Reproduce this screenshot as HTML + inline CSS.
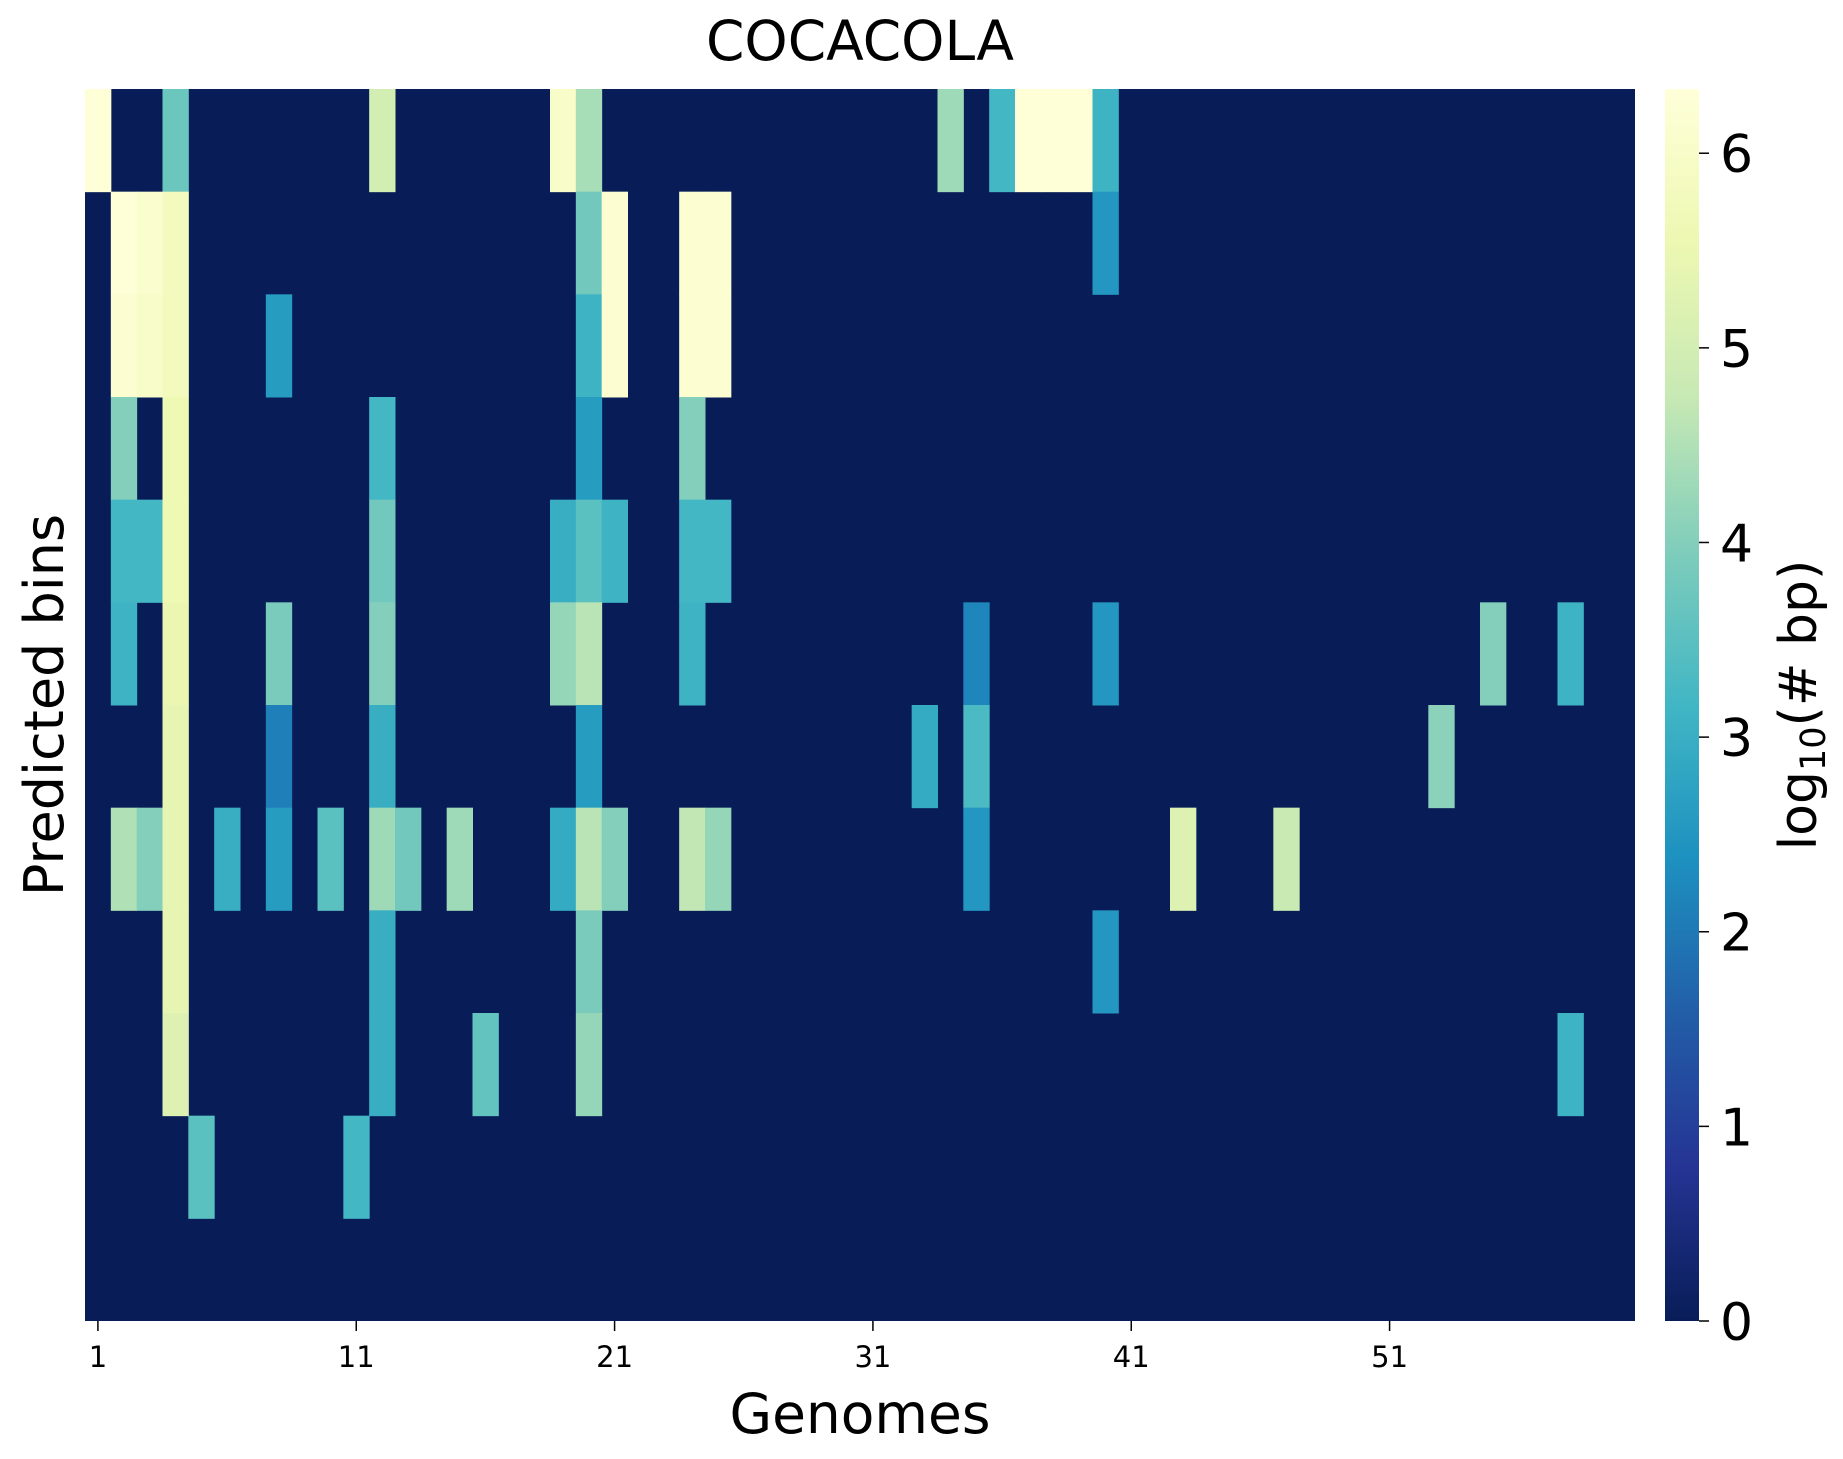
<!DOCTYPE html>
<html><head><meta charset="utf-8"><style>
html,body{margin:0;padding:0;background:#fff;}
svg{display:block;font-family:"DejaVu Sans","Liberation Sans",sans-serif;}
</style></head><body>
<svg id="chart" width="1843" height="1459" xmlns="http://www.w3.org/2000/svg">
<defs><linearGradient id="cbgrad" x1="0" y1="1" x2="0" y2="0">
<stop offset="0" stop-color="#081d58"/><stop offset="0.125" stop-color="#253494"/><stop offset="0.25" stop-color="#225ea8"/><stop offset="0.375" stop-color="#1d91c0"/><stop offset="0.5" stop-color="#41b6c4"/><stop offset="0.625" stop-color="#7fcdbb"/><stop offset="0.75" stop-color="#c7e9b4"/><stop offset="0.875" stop-color="#edf8b1"/><stop offset="1" stop-color="#ffffd9"/>
</linearGradient></defs>
<text x="860" y="60" font-size="55" text-anchor="middle">COCACOLA</text>
<g id="cells"></g>
<g id="xticks"></g>
<text x="860" y="1433" font-size="55" text-anchor="middle">Genomes</text>
<text transform="translate(63,705) rotate(-90)" font-size="54" text-anchor="middle">Predicted bins</text>
<rect x="1665" y="89" width="34" height="1232" fill="url(#cbgrad)"/>
<g id="cbticks"></g>
<text transform="translate(1816,705) rotate(-90)" font-size="52" text-anchor="middle">log<tspan font-size="35" dy="9">10</tspan><tspan dy="-9">(# bp)</tspan></text>
</svg>
<script>
const nCols = 60;
const nRows = 12;
const vMax = 6.33;
const xTickLabels = [1, 11, 21, 31, 41, 51];
const cbTicks = [0, 1, 2, 3, 4, 5, 6];
// nonzero cells: [col, value] per row
const row0 = [[0,6.3],[3,3.7],[11,5.0],[18,6.0],[19,4.4],[33,4.3],[35,3.2],[36,6.3],[37,6.3],[38,6.3],[39,3.1]];
const row1 = [[1,6.3],[2,6.1],[3,5.8],[19,3.8],[20,6.2],[23,6.2],[24,6.2],[39,2.5]];
const row2 = [[1,6.2],[2,6.0],[3,5.8],[7,2.6],[19,3.1],[20,6.2],[23,6.2],[24,6.2]];
const row3 = [[1,4.0],[3,5.6],[11,3.2],[19,2.6],[23,4.0]];
const row4 = [[1,3.2],[2,3.2],[3,5.6],[11,3.8],[18,3.0],[19,3.5],[20,3.1],[23,3.2],[24,3.2]];
const row5 = [[1,3.1],[3,5.5],[7,3.9],[11,4.0],[18,4.2],[19,4.6],[23,3.1],[34,2.2],[39,2.5],[54,4.0],[57,3.1]];
const row6 = [[3,5.4],[7,2.1],[11,3.0],[19,2.6],[32,2.9],[34,3.3],[52,4.1]];
const row7 = [[1,4.5],[2,4.0],[3,5.4],[5,3.0],[7,2.6],[9,3.5],[11,4.3],[12,3.8],[14,4.3],[18,2.9],[19,4.6],[20,4.0],[23,4.7],[24,4.2],[34,2.5],[42,5.2],[46,4.8]];
const row8 = [[3,5.4],[11,3.0],[19,3.9],[39,2.5]];
const row9 = [[3,5.2],[11,3.0],[15,3.6],[19,4.2],[57,3.1]];
const row10 = [[4,3.5],[10,3.2]];
const row11 = [];
const rows = [row0,row1,row2,row3,row4,row5,row6,row7,row8,row9,row10,row11];

const L=85,R=1635,T=89,B=1321;
const cw=(R-L)/nCols, rh=(B-T)/nRows;
const xPos=c=>L+c*cw, yPos=r=>T+r*rh;
const stops=["#081d58","#253494","#225ea8","#1d91c0","#41b6c4","#7fcdbb","#c7e9b4","#edf8b1","#ffffd9"];
function hex(h){return [1,3,5].map(i=>parseInt(h.substr(i,2),16));}
function color(v){let t=Math.max(0,Math.min(1,v/vMax))*(stops.length-1);let i=Math.min(Math.floor(t),stops.length-2),f=t-i;
const a=hex(stops[i]),b=hex(stops[i+1]);return "rgb("+a.map((x,k)=>Math.round(x+(b[k]-x)*f)).join(",")+")";}
const NS="http://www.w3.org/2000/svg";
const cells=document.getElementById("cells");
const bg=document.createElementNS(NS,"rect");


bg.setAttribute("x",L);bg.setAttribute("y",T);bg.setAttribute("width",R-L);bg.setAttribute("height",B-T);bg.setAttribute("fill",color(0));
cells.appendChild(bg);
rows.forEach((row,r)=>row.forEach(([c,v])=>{
  const e=document.createElementNS(NS,"rect");
  
  
  e.setAttribute("x",xPos(c));e.setAttribute("y",yPos(r));
  e.setAttribute("width",cw+0.5);e.setAttribute("height",rh+0.5);
  e.setAttribute("fill",color(v));cells.appendChild(e);
}));
const xt=document.getElementById("xticks");
xTickLabels.forEach(lbl=>{
  const x=xPos(lbl-1)+cw/2;
  const l=document.createElementNS(NS,"line");
  
  
  l.setAttribute("x1",x);l.setAttribute("x2",x);l.setAttribute("y1",B);l.setAttribute("y2",B+10);l.setAttribute("stroke","#000");l.setAttribute("stroke-width","1.5");
  xt.appendChild(l);
  const t=document.createElementNS(NS,"text");
  
  
  t.setAttribute("x",x);t.setAttribute("y",B+46);t.setAttribute("font-size","29");t.setAttribute("text-anchor","middle");
  t.textContent=lbl;xt.appendChild(t);
});
const cb=document.getElementById("cbticks");
cbTicks.forEach(v=>{
  const y=B-(v/vMax)*(B-T);
  const l=document.createElementNS(NS,"line");
  
  
  l.setAttribute("x1",1699);l.setAttribute("x2",1709);l.setAttribute("y1",y);l.setAttribute("y2",y);l.setAttribute("stroke","#000");l.setAttribute("stroke-width","1.5");
  cb.appendChild(l);
  const t=document.createElementNS(NS,"text");
  
  
  t.setAttribute("x",1720);t.setAttribute("y",y+19);t.setAttribute("font-size","52");
  t.textContent=v;cb.appendChild(t);
});
</script>
</body></html>
